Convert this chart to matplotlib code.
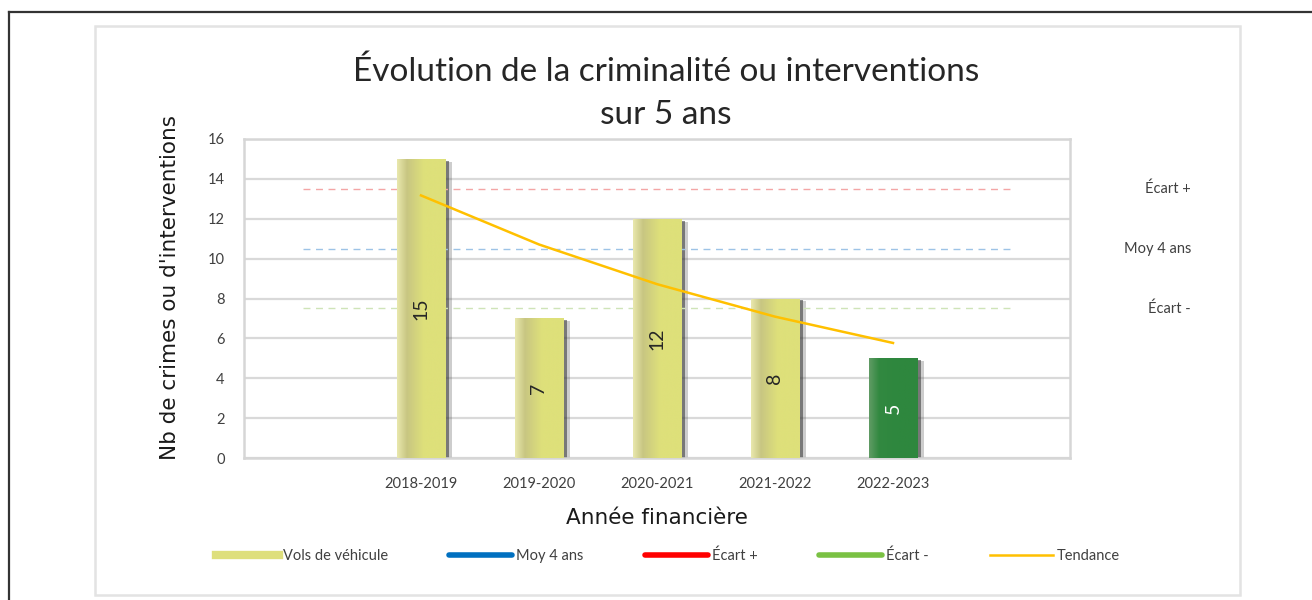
import matplotlib
matplotlib.use("Agg")
import matplotlib.pyplot as plt
import numpy as np
from matplotlib.lines import Line2D
from matplotlib.patches import Rectangle

# data
years = ["2018-2019", "2019-2020", "2020-2021", "2021-2022", "2022-2023"]
vols = [15, 7, 12, 8, 5]
moy_4ans = 10.5
ecart_plus = 13.5
ecart_moins = 7.5
tendance = [13.17, 10.71, 8.72, 7.09, 5.77]

W, H = 1312, 600
fig = plt.figure(figsize=(W / 100, H / 100), dpi=100)

# outer black frame (cut on right / bottom) and the light chart box
fig.add_artist(Line2D([9 / W, 9 / W], [0, 1 - 12 / H], color="#333333", lw=1.6))
fig.add_artist(Line2D([9 / W, 1], [1 - 12 / H, 1 - 12 / H], color="#333333", lw=1.6))
fig.add_artist(Rectangle((95 / W, 1 - 595 / H), (1240 - 95) / W, (595 - 26) / H,
                         fill=False, ec="#E3E3E3", lw=1.8))

ax = fig.add_axes([244 / W, 1 - 458 / H, (1070 - 244) / W, (458 - 139) / H])
x = np.arange(len(years))
bw = 0.41

ax.set_xlim(-1.5, 5.5)
ax.set_ylim(0, 16)
ax.set_yticks(range(0, 17, 2))
ax.set_xticks(x)
ax.set_xticklabels(years)
ax.grid(axis="y", color="#D9D9D9", lw=1.6, zorder=0)
ax.set_axisbelow(True)
for s in ax.spines.values():
    s.set_color("#D6D6D6")
    s.set_linewidth(1.8)
ax.tick_params(length=0, labelsize=10.5, labelcolor="#404040", pad=14)
for lab in ax.get_xticklabels() + ax.get_yticklabels():
    lab.set_family("Lato")

# soft shadows to the right of the bars
ax.bar(x + 0.035, [v - 0.1 for v in vols], bw, color="#333333", alpha=0.55, zorder=2)
ax.bar(x + 0.06, [v - 0.15 for v in vols], bw, color="#5a5a5a", alpha=0.3, zorder=1.9)

bar_cols = ["yellow"] * 4 + ["green"]
bars = ax.bar(x, vols, bw, color="#DEDF7C", zorder=3)

grad_pos = np.linspace(0, 1, 60)
yel = np.array([[232, 231, 172], [200, 198, 130], [222, 224, 122], [222, 224, 122]]) / 255
grn = np.array([[95, 155, 100], [50, 137, 65], [46, 135, 62], [46, 135, 62]]) / 255
stops = [0, 0.2, 0.55, 1]
for b, kind in zip(bars, bar_cols):
    cols = yel if kind == "yellow" else grn
    img = np.stack([np.interp(grad_pos, stops, cols[:, c]) for c in range(3)], axis=-1)[None, :, :]
    im = ax.imshow(img, extent=[b.get_x(), b.get_x() + b.get_width(), 0, b.get_height()],
                   aspect="auto", zorder=3.1, interpolation="bilinear")
    im.set_clip_path(b)
ax.set_xlim(-1.5, 5.5)
ax.set_ylim(0, 16)

for xi, v, kind in zip(x, vols, bar_cols):
    ax.text(xi, v / 2, str(v), rotation=90, ha="center", va="center", fontsize=14,
            family="Lato", color="white" if kind == "green" else "#262626", zorder=5)

# reference lines
ax.plot([-1, 5], [ecart_plus] * 2, ls=(0, (5, 4)), color="#F4A6A6", lw=1.0, zorder=2.5)
ax.plot([-1, 5], [moy_4ans] * 2, ls=(0, (5, 4)), color="#9DC3E6", lw=1.0, zorder=2.5)
ax.plot([-1, 5], [ecart_moins] * 2, ls=(0, (5, 4)), color="#CFE4B8", lw=1.0, zorder=2.5)
ax.plot(x, tendance, color="#FFC000", lw=1.8, zorder=4)

tr = ax.get_yaxis_transform()
for lab, val in [("Écart +", ecart_plus), ("Moy 4 ans", moy_4ans), ("Écart -", ecart_moins)]:
    ax.text((1191 - 244) / (1070 - 244), val, lab, transform=tr, ha="right", va="center",
            fontsize=10.5, family="Lato", color="#404040", clip_on=False)

fig.text(666 / W, 1 - 93 / H, "Évolution de la criminalité ou interventions\nsur 5 ans",
         ha="center", va="center", fontsize=24, family="Lato", color="#262626", linespacing=1.55)
fig.text(170 / W, 1 - 287.5 / H, "Nb de crimes ou d'interventions", rotation=90,
         ha="center", va="center", fontsize=15.5, family="DejaVu Sans", color="#1a1a1a")
fig.text(657 / W, 1 - 518 / H, "Année financière", ha="center", va="center",
         fontsize=15.5, family="DejaVu Sans", color="#1a1a1a")

handles = [
    Line2D([], [], color="#DEDF7C", lw=6),
    Line2D([], [], color="#0070C0", lw=4, solid_capstyle="round"),
    Line2D([], [], color="#FF0000", lw=4, solid_capstyle="round"),
    Line2D([], [], color="#7AC143", lw=4, solid_capstyle="round"),
    Line2D([], [], color="#FFC000", lw=1.8),
]
labels = ["Vols de véhicule", "Moy 4 ans", "Écart +", "Écart -", "Tendance"]
leg = fig.legend(handles, labels, loc="center", bbox_to_anchor=(668 / W, 1 - 556 / H),
                 ncol=5, frameon=False, handlelength=4.3, handletextpad=0.3,
                 columnspacing=4.2, prop={"family": "Lato", "size": 10.5})
for t in leg.get_texts():
    t.set_color("#404040")

fig.savefig("out.png", dpi=100)
